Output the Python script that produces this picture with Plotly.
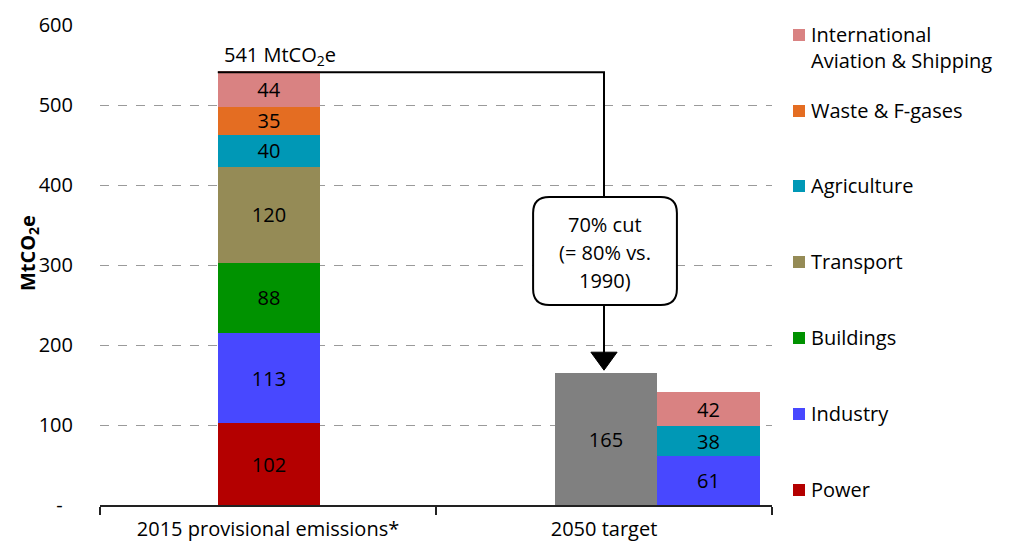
import plotly.graph_objects as go

# ---------------- data ----------------
sectors = ["Power", "Industry", "Buildings", "Transport", "Agriculture",
           "Waste & F-gases", "International Aviation & Shipping"]
legend_labels = ["Power", "Industry", "Buildings", "Transport", "Agriculture",
                 "Waste & F-gases", "International<br>Aviation & Shipping"]
colors = ["#B40000", "#4848FF", "#009200", "#958B56", "#0098B6",
          "#E46D22", "#D98282"]
emissions_2015 = [102, 113, 88, 120, 40, 35, 44]
sectors_2050 = ["Industry", "Agriculture", "International Aviation & Shipping"]
values_2050 = [61, 38, 42]
target_2050_total = 165
total_2015_label = "541 MtCO<sub>2</sub>e"
category_labels = ["2015 provisional emissions*", "2050 target"]
cut_text = ["70% cut", "(= 80% vs.", "1990)"]
y_ticks = [0, 100, 200, 300, 400, 500, 600]
y_ticktext = ["-\u00a0\u00a0", "100", "200", "300", "400", "500", "600"]

# ---------------- layout constants ----------------
X_2015 = 0.503
X_GRAY = 1.506
X_2050 = 1.811
BAR_W = 0.305
FONT = "Open Sans"
FS = 20
TXT = "#000000"

fig = go.Figure()

for name, col, v15 in zip(sectors, colors, emissions_2015):
    xs = [X_2015]
    ys = [v15]
    if name in sectors_2050:
        xs.append(X_2050)
        ys.append(values_2050[sectors_2050.index(name)])
    fig.add_trace(go.Bar(
        x=xs, y=ys, width=BAR_W, name=name, marker=dict(color=col, line=dict(width=0)),
        text=[str(v) for v in ys], textposition="inside", insidetextanchor="middle",
        textangle=0, constraintext="none",
        textfont=dict(family=FONT, size=FS, color=TXT),
        showlegend=False, hoverinfo="x+y+name"))

fig.add_trace(go.Bar(
    x=[X_GRAY], y=[target_2050_total], width=BAR_W, name="2050 target",
    marker=dict(color="#808080", line=dict(width=0)),
    text=[str(target_2050_total)], textposition="inside", insidetextanchor="middle",
    textangle=0, constraintext="none",
    textfont=dict(family=FONT, size=FS, color=TXT), showlegend=False))

total_2015 = 541
x_left = X_2015 - BAR_W / 2
x_arrow = 1.5
box_x0, box_x1, box_y0, box_y1 = 1.289, 1.717, 250, 385
rx, ry = 0.048, 20

shapes = [
    dict(type="path", xref="x", yref="y",
         path=f"M {x_left},{total_2015} L {x_arrow},{total_2015} L {x_arrow},{box_y1}",
         line=dict(color="black", width=2)),
    dict(type="path", xref="x", yref="y",
         path=(f"M {box_x0+rx},{box_y1} L {box_x1-rx},{box_y1} "
               f"Q {box_x1},{box_y1} {box_x1},{box_y1-ry} L {box_x1},{box_y0+ry} "
               f"Q {box_x1},{box_y0} {box_x1-rx},{box_y0} L {box_x0+rx},{box_y0} "
               f"Q {box_x0},{box_y0} {box_x0},{box_y0+ry} L {box_x0},{box_y1-ry} "
               f"Q {box_x0},{box_y1} {box_x0+rx},{box_y1} Z"),
         fillcolor="white", line=dict(color="black", width=2)),
    dict(type="line", xref="x", yref="y", x0=x_arrow, x1=x_arrow, y0=box_y0, y1=188,
         line=dict(color="black", width=2)),
    dict(type="path", xref="x", yref="y",
         path=f"M {x_arrow-0.039},191 L {x_arrow+0.039},191 L {x_arrow},168.5 Z",
         fillcolor="black", line=dict(color="black", width=1)),
]

annotations = [
    dict(x=X_2015 - 0.14, y=total_2015, xref="x", yref="y", xanchor="left",
         yanchor="bottom", yshift=0, text=total_2015_label, showarrow=False,
         font=dict(family=FONT, size=FS, color=TXT)),
    dict(x=-0.107, y=0.525, xref="paper", yref="paper", xanchor="center", yanchor="middle",
         text="<b>MtCO<sub>2</sub>e</b>",
         textangle=-90, showarrow=False, font=dict(family=FONT, size=20, color="black")),
]
for i, line in enumerate(cut_text):
    annotations.append(dict(x=1.503, y=351 - 35 * i, xref="x", yref="y", text=line,
                            xanchor="center", yanchor="middle",
                            showarrow=False, font=dict(family=FONT, size=FS, color=TXT)))

# legend (right side, aligned to the reference); screen px -> paper coords
def px_x(p):
    return (p - 100) / 672

def px_y(p):
    return (505 - p) / 480

legend_y_px = [490, 414, 338, 262, 186, 111, 35]
for lab, col, yp in zip(legend_labels, colors, legend_y_px):
    shapes.append(dict(type="rect", xref="paper", yref="paper",
                       x0=px_x(793), x1=px_x(805), y0=px_y(yp + 6), y1=px_y(yp - 6),
                       fillcolor=col, line=dict(width=0)))
    annotations.append(dict(x=px_x(809), y=px_y(yp - 16), xref="paper", yref="paper",
                            xanchor="left", yanchor="top", align="left", text=lab,
                            showarrow=False,
                            font=dict(family=FONT, size=FS, color=TXT)))

# page body has an 8px default margin -> compensate so plot sits where the reference does
fig.update_layout(
    width=1016, height=552, barmode="stack",
    margin=dict(l=92, r=252, t=17, b=55, autoexpand=False),
    plot_bgcolor="white", paper_bgcolor="white",
    shapes=shapes, annotations=annotations, showlegend=False,
    font=dict(family=FONT, size=FS, color=TXT),
    xaxis=dict(range=[0, 2], tickvals=[0.5, 1.5], ticktext=category_labels,
               ticks="", showgrid=False, zeroline=False, showline=True, automargin=False,
               linecolor="#222222", linewidth=1.5, ticklabelstandoff=5,
               tickfont=dict(family=FONT, size=FS, color=TXT),
               minor=dict(tickmode="array", tickvals=[0, 1, 2], ticks="outside",
                          ticklen=8, tickwidth=1.5, tickcolor="#222222", showgrid=False)),
    yaxis=dict(range=[0, 600], tickvals=y_ticks, ticktext=y_ticktext, ticks="",
               showgrid=True, gridcolor="#9a9a9a", griddash="dash", gridwidth=1,
               zeroline=False, showline=False, ticklabelstandoff=26, automargin=False,
               tickfont=dict(family=FONT, size=FS, color=TXT)),
)

fig.write_html("out.html")
